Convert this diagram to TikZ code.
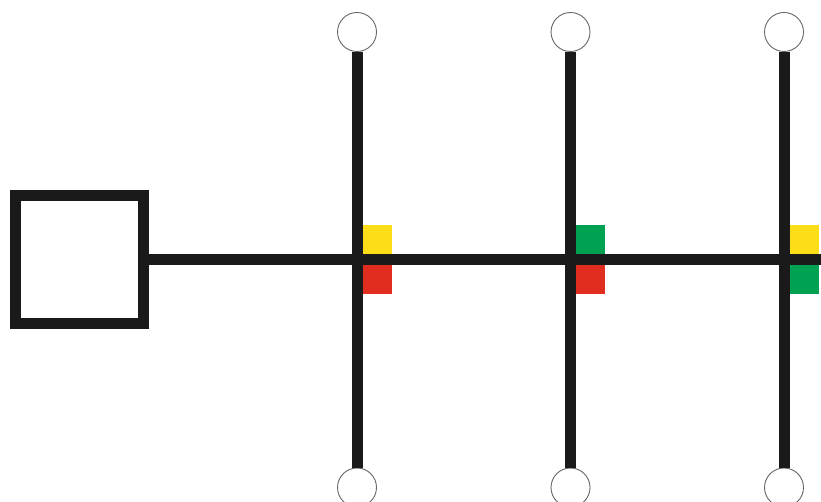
\documentclass[tikz,border=0pt]{standalone}
\usetikzlibrary{positioning}
\definecolor{noir}{RGB}{26,26,26}
\definecolor{jaune}{RGB}{252,221,23}
\definecolor{rouge}{RGB}{224,45,31}
\definecolor{vert}{RGB}{0,162,81}
\begin{document}
\begin{tikzpicture}[x=1pt, y=-1pt,
		barre/.style={line width=11pt, draw=noir},
		borne/.style={circle, draw=gray!80!black, line width=0.9pt, fill=white, minimum size=39pt, inner sep=0pt},
		drapeau/.style={minimum size=29pt, inner sep=0pt}]
	% Cadre
	\useasboundingbox (0,0) rectangle (821,502);

	% Boite de gauche et ligne principale
	\node[draw=noir, line width=11pt, minimum size=128pt, inner sep=0pt] (boite) at (79.5,259.5) {};
	\coordinate (fin) at (821,259.5);
	\draw[barre] (boite.east) -- (fin);

	% Branches verticales avec bornes et drapeaux
	\foreach \x/\ch/\cb [count=\i] in {357/jaune/rouge, 570.5/vert/rouge, 784/jaune/vert}
	{
		\coordinate (j\i) at (\x,259.5);
		\node[borne] (h\i) at (\x,32) {};
		\node[borne] (b\i) at (\x,487.5) {};
		\draw[barre] (h\i) -- (b\i);
		\node[drapeau, fill=\ch, above right=5.5pt and 5.5pt of j\i] (dh\i) {};
		\node[drapeau, fill=\cb, below right=5.5pt and 5.5pt of j\i] (db\i) {};
	}
\end{tikzpicture}
\end{document}
